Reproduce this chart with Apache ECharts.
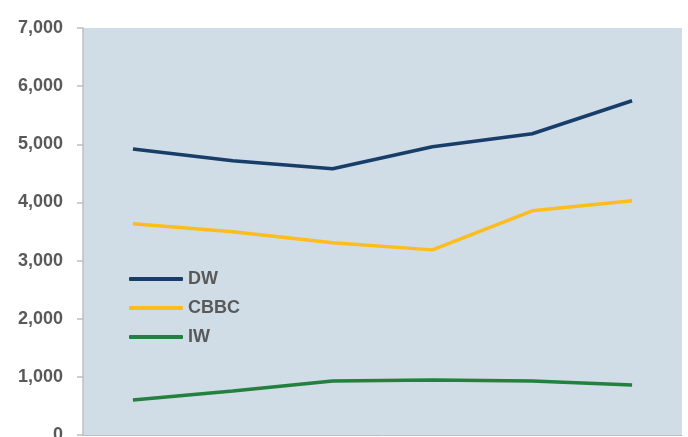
<!DOCTYPE html>
<html>
<head>
<meta charset="utf-8">
<script src="https://cdn.jsdelivr.net/npm/echarts@6/dist/echarts.min.js"></script>
<style>
  html, body { margin: 0; padding: 0; background: #ffffff; }
  #chart { width: 688px; height: 437px; }
</style>
</head>
<body>
<div id="chart"></div>
<script>
// Six periods along the horizontal axis (labels fall below the visible area)
const categories = ['1', '2', '3', '4', '5', '6'];
const seriesNames = ['DW', 'CBBC', 'IW'];
const dwValues = [4920, 4715, 4578, 4957, 5181, 5749];
const cbbcValues = [3632, 3494, 3305, 3184, 3855, 4028];
const iwValues = [602, 757, 929, 947, 929, 861];
const yTicks = { min: 0, max: 7000, interval: 1000 };
const colors = ['#173D68', '#FDBD1C', '#23803E'];

const chart = echarts.init(document.getElementById('chart'), null, { renderer: 'canvas' });

const seriesData = [dwValues, cbbcValues, iwValues];

chart.setOption({
  animation: false,
  grid: {
    left: 83, right: 6, top: 28, bottom: 2,
    outerBoundsMode: 'none',
    containLabel: false,
    show: true, backgroundColor: '#D0DCE6', borderWidth: 0
  },
  legend: {
    orient: 'vertical',
    left: 124,
    top: 265,
    itemWidth: 54,
    itemHeight: 4,
    itemGap: 11,
    icon: 'roundRect',
    textStyle: { fontFamily: 'Liberation Sans, Arial, sans-serif', fontSize: 18, fontWeight: 'bold', color: '#595959' },
    data: seriesNames
  },
  xAxis: {
    type: 'category',
    data: categories,
    boundaryGap: true,
    axisLine: { show: true, lineStyle: { color: '#BFBFBF', width: 1 } },
    axisTick: { show: false },
    axisLabel: { show: false },
    splitLine: { show: false }
  },
  yAxis: {
    type: 'value',
    min: yTicks.min,
    max: yTicks.max,
    interval: yTicks.interval,
    axisLine: { show: true, lineStyle: { color: '#BFBFBF', width: 1.5 } },
    axisTick: { show: true, length: 6, lineStyle: { color: '#BFBFBF', width: 1.5 } },
    splitLine: { show: false },
    axisLabel: {
      margin: 20,
      color: '#595959',
      fontFamily: 'Liberation Sans, Arial, sans-serif',
      fontSize: 18,
      fontWeight: 'bold',
      formatter: v => v.toLocaleString('en-US')
    }
  },
  series: seriesNames.map((name, i) => ({
    name: name,
    type: 'line',
    data: seriesData[i],
    symbol: 'none',
    smooth: false,
    lineStyle: { color: colors[i], width: 3.5 },
    itemStyle: { color: colors[i] }
  }))
});
</script>
</body>
</html>
